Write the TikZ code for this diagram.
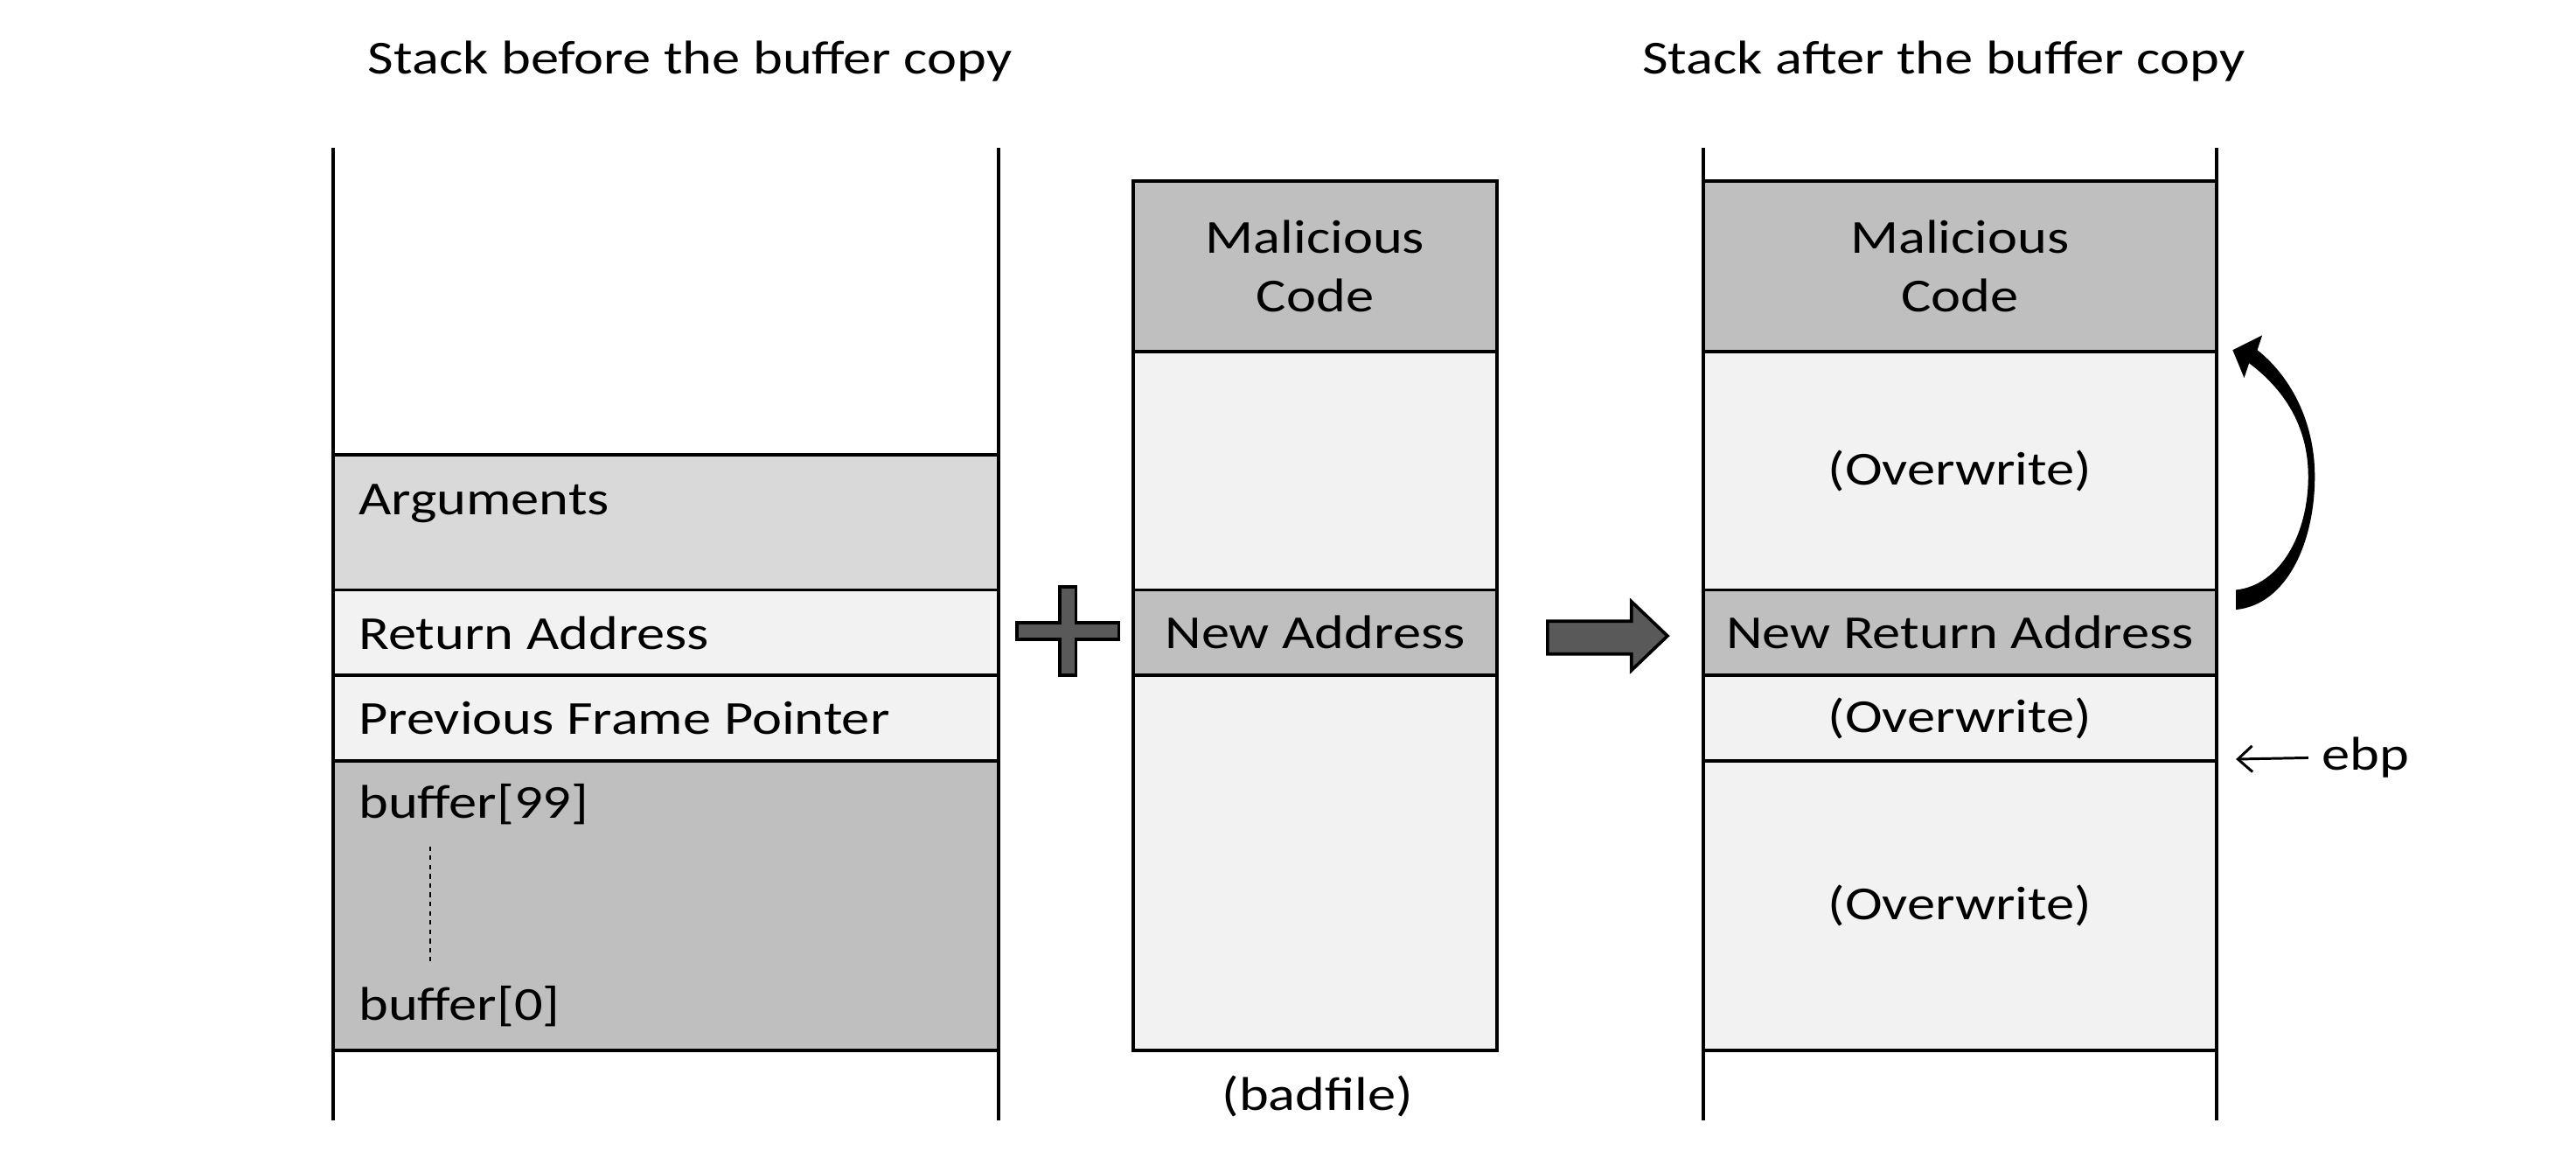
\documentclass[tikz,border=0pt]{standalone}
\usepackage{fontspec}
\setmainfont{Carlito}[FakeStretch=1.19]
\usetikzlibrary{fit,arrows.meta}
\definecolor{dk}{HTML}{BFBFBF}
\definecolor{md}{HTML}{D9D9D9}
\definecolor{lt}{HTML}{F2F2F2}
\definecolor{arr}{HTML}{595959}
\begin{document}
\begin{tikzpicture}[x=0.02cm,y=-0.02cm,
  every node/.style={font=\fontsize{16.4}{20.5}\selectfont, inner sep=0pt},
  cell/.style={draw=black, line width=1.2pt, inner sep=0pt},
  wall/.style={line width=1.2pt},
  lbl/.style={anchor=base west},
  ctr/.style={align=center},
  ttl/.style={anchor=base},
  bigarrow/.style={fill=arr, draw=black, line width=1.1pt, line join=miter},
]
\useasboundingbox[fill=white] (0,0) rectangle (1568,700);

% titles
\node[ttl] (t1) at (420,45) {Stack before the buffer copy};
\node[ttl] (t2) at (1183,45) {Stack after the buffer copy};

% ---------- left stack ----------
\node[cell, fill=md, fit={(203,277)(608,359)}] (args) {};
\node[cell, fill=lt, fit={(203,359)(608,411)}] (ret) {};
\node[cell, fill=lt, fit={(203,411)(608,463)}] (pfp) {};
\node[cell, fill=dk, fit={(203,463)(608,639)}] (buf) {};
\node[lbl] (targs) at (218,313) {Arguments};
\node[lbl] (tret) at (218,395) {Return Address};
\node[lbl] (tpfp) at (218,447) {Previous Frame Pointer};
\node[lbl] (tb99) at (218,498) {buffer[99]};
\node[lbl] (tb0) at (218,621) {buffer[0]};
\coordinate (dtop) at (262,515);
\coordinate (dbot) at (262,585);
\draw[line width=0.7pt, dash pattern=on 1.6pt off 1.6pt] (dtop) -- (dbot);
\coordinate (la) at (203,90); \coordinate (lb) at (203,682);
\coordinate (lc) at (608,90); \coordinate (ld) at (608,682);
\draw[wall] (la) -- (lb);
\draw[wall] (lc) -- (ld);

% plus sign
\draw[bigarrow] (619,379) -- (645,379) -- (645,357) -- (655,357) -- (655,379) -- (681,379)
  -- (681,389) -- (655,389) -- (655,411) -- (645,411) -- (645,389) -- (619,389) -- cycle;

% ---------- badfile ----------
\node[cell, fill=dk, fit={(690,110)(911,214)}] (mc1) {};
\node[cell, fill=lt, fit={(690,214)(911,359)}] (bl1) {};
\node[cell, fill=dk, fit={(690,359)(911,411)}] (na) {};
\node[cell, fill=lt, fit={(690,411)(911,639)}] (bl2) {};
\node[ctr] (tmc1) at (mc1.center) {Malicious\\Code};
\node (tna) at (na.center) {New Address};
\node (bad) at (802,667) {(badfile)};

% block arrow
\draw[bigarrow] (942,378) -- (993,378) -- (993,366) -- (1015,387) -- (993,408) -- (993,398) -- (942,398) -- cycle;

% ---------- right stack ----------
\node[cell, fill=dk, fit={(1037,110)(1349,214)}] (mc2) {};
\node[cell, fill=lt, fit={(1037,214)(1349,359)}] (ow1) {};
\node[cell, fill=dk, fit={(1037,359)(1349,411)}] (nra) {};
\node[cell, fill=lt, fit={(1037,411)(1349,463)}] (ow2) {};
\node[cell, fill=lt, fit={(1037,463)(1349,639)}] (ow3) {};
\node[ctr] (tmc2) at (mc2.center) {Malicious\\Code};
\node (tow1) at (ow1.center) {(Overwrite)};
\node (tnra) at (nra.center) {New Return Address};
\node (tow2) at (ow2.center) {(Overwrite)};
\node (tow3) at (ow3.center) {(Overwrite)};
\coordinate (ra) at (1037,90); \coordinate (rb) at (1037,682);
\coordinate (rc) at (1349,90); \coordinate (rd) at (1349,682);
\draw[wall] (ra) -- (rb);
\draw[wall] (rc) -- (rd);

% curved arrow
\fill[black] (1361,371) .. controls (1392,368) and (1409,330) .. (1409,290)
  .. controls (1409,255) and (1393,228) .. (1374,213)
  -- (1377,204) -- (1359,213) -- (1366,230) -- (1369,221)
  .. controls (1389,236) and (1405,258) .. (1405,290)
  .. controls (1405,325) and (1388,356) .. (1361,359) -- cycle;

% ebp
\node[anchor=west] (ebp) at (1413,461) {ebp};
\coordinate (ebpt) at (1361,462);
\draw[line width=0.9pt, -{Straight Barb[length=5pt,width=9pt]}, shorten <=0.16cm] (ebp.west) -- (ebpt);
\end{tikzpicture}
\end{document}
